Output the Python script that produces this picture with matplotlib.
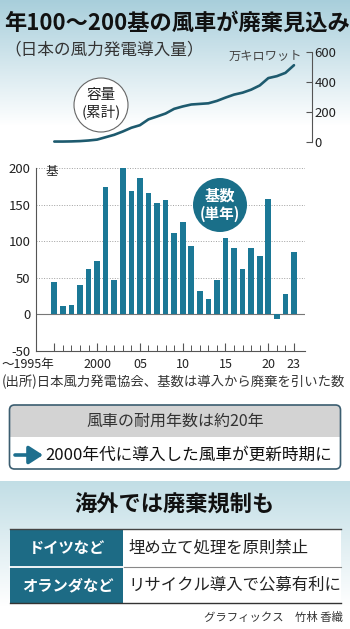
import numpy as np
import matplotlib
matplotlib.use("Agg")
import matplotlib.pyplot as plt
from matplotlib.patches import Circle, Rectangle, FancyBboxPatch

plt.rcParams['font.family'] = ['Noto Sans CJK JP', 'DejaVu Sans']

# ---------------- data ----------------
years = list(range(1995, 2024))
units_added = [44, 11, 12, 40, 62, 73, 175, 47, 200, 169, 187, 166, 153, 156,
               111, 126, 94, 32, 21, 47, 104, 90, 62, 90, 79, 158, -7, 28, 85]
capacity_cum = [1, 1, 2, 4, 8, 14, 30, 46, 68, 93, 110, 149, 168, 188,
                219, 235, 248, 252, 256, 272, 294, 314, 327, 347, 375, 424, 437, 459, 510]
cap_ticks = [0, 200, 400, 600]
bar_ticks = [-50, 0, 50, 100, 150, 200]
xtick_pos = [1995, 2000, 2005, 2010, 2015, 2020, 2023]
xtick_labels = ["～1995年", "2000", "05", "10", "15", "20", "23"]

title = "年100～200基の風車が廃棄見込み"
subtitle = "（日本の風力発電導入量）"
cap_unit = "万キロワット"
bar_unit = "基"
source = "(出所)日本風力発電協会、基数は導入から廃棄を引いた数"
box_head = "風車の耐用年数は約20年"
box_body = "2000年代に導入した風車が更新時期に"
sec_title = "海外では廃棄規制も"
table_left = ["ドイツなど", "オランダなど"]
table_right = ["埋め立て処理を原則禁止", "リサイクル導入で公募有利に"]
credit = "グラフィックス　竹林 香織"

# ---------------- figure ----------------
W, H = 350, 629
fig = plt.figure(figsize=(W / 100, H / 100), dpi=100)

def ax_px(x0, y0, x1, y1, **kw):
    return fig.add_axes([x0 / W, 1 - y1 / H, (x1 - x0) / W, (y1 - y0) / H], **kw)

# background gradients
bg = ax_px(0, 0, W, H)
bg.set_zorder(-5)
yy = np.arange(H)[:, None]
top_c = np.array([0.66, 0.81, 0.86])
low_c = np.array([0.76, 0.87, 0.90])
white = np.array([1.0, 1.0, 1.0])
t1 = np.clip(yy / 125.0, 0, 1)
img = top_c * (1 - t1[..., None]) + white * t1[..., None]
t2 = np.clip((yy - 481) / 125.0, 0, 1)
mask2 = (yy >= 481)
img2 = low_c * (1 - t2[..., None]) + white * t2[..., None]
img = np.where(mask2[..., None], img2, img)
img = np.repeat(img, W, axis=1)
bg.imshow(img, extent=(0, W, H, 0), aspect='auto', interpolation='bilinear')
bg.set_xlim(0, W)
bg.set_ylim(H, 0)
bg.axis('off')

px_per_year = 8.56
x_left_year = 1995 - (54.3 - 36) / px_per_year
line_color = "#1d5a6e"
bar_color = "#1b7896"
spine_c = "#555555"

# ---------------- capacity line chart ----------------
axl = ax_px(36, 51.7, 311.7, 141.7)
axl.patch.set_alpha(0)
axl.plot(years, capacity_cum, color=line_color, lw=1.9, solid_capstyle='round',
         clip_on=False)
axl.set_xlim(x_left_year, 1995 + (311.7 - 54.3) / px_per_year)
axl.set_ylim(0, 600)
for s in ['top', 'left', 'bottom']:
    axl.spines[s].set_visible(False)
axl.spines['right'].set_color(spine_c)
axl.spines['right'].set_linewidth(0.8)
axl.set_xticks([])
axl.yaxis.tick_right()
axl.set_yticks(cap_ticks)
axl.set_yticklabels([str(v) for v in cap_ticks])
axl.tick_params(axis='y', direction='in', length=4, width=0.8, color=spine_c,
                labelsize=9.5, pad=2, labelcolor="#222222")

# ---------------- bar chart ----------------
axb = ax_px(36, 168.3, 305, 350.5)
axb.patch.set_alpha(0)
axb.set_xlim(x_left_year, 1995 + (305 - 54.3) / px_per_year)
axb.set_ylim(-50, 200)
for v in [50, 100, 150, 200]:
    axb.axhline(v, color="#a0a0a0", lw=0.7, ls=(0, (1, 1.6)), zorder=0)
axb.axhline(0, color="#777777", lw=0.8, zorder=1)
axb.bar(years, units_added, width=0.66, color=bar_color, zorder=2)
for s in ['top', 'right']:
    axb.spines[s].set_visible(False)
for s in ['left', 'bottom']:
    axb.spines[s].set_color(spine_c)
    axb.spines[s].set_linewidth(0.8)
axb.set_yticks(bar_ticks)
axb.set_yticklabels([str(v) for v in bar_ticks])
axb.tick_params(axis='y', length=0, pad=4, labelsize=9.5, labelcolor="#222222")
axb.set_xticks(xtick_pos)
axb.set_xticklabels(xtick_labels)
axb.set_xticks(years, minor=True)
axb.tick_params(axis='x', which='major', direction='in', length=6, width=0.8,
                color=spine_c, labelsize=9, pad=5.5, labelcolor="#222222")
axb.tick_params(axis='x', which='minor', direction='in', length=4, width=0.7,
                color=spine_c)
lbls = axb.get_xticklabels()
lbls[0].set_ha('right')
lbls[0].set_x(1995.1)

# ---------------- overlay (pixel coords) ----------------
ov = ax_px(0, 0, W, H)
ov.set_zorder(10)
ov.patch.set_alpha(0)
ov.set_xlim(0, W)
ov.set_ylim(H, 0)
ov.axis('off')

ov.text(4, 23, title, fontsize=16, fontweight='bold', ha='left', va='center',
        color="#111111")
ov.text(4, 50, subtitle, fontsize=12, ha='left', va='center', color="#333333")
ov.text(302, 56, cap_unit, fontsize=8.8, ha='right', va='center', color="#444444")
ov.text(45, 172, bar_unit, fontsize=9, ha='left', va='center', color="#222222")

# capacity badge
ov.add_patch(Circle((101, 105), 27, facecolor='white', edgecolor='#666666', lw=0.8))
ov.text(101, 95, "容量", fontsize=10.5, ha='center', va='center', color="#222222")
ov.text(101, 112, "(累計)", fontsize=10.5, ha='center', va='center', color="#222222")
# units badge
ov.add_patch(Circle((220, 205), 27, facecolor='#1a6f89', edgecolor='none'))
ov.text(220, 196, "基数", fontsize=11, fontweight='bold', ha='center', va='center',
        color='white')
ov.text(220, 214, "(単年)", fontsize=10.5, fontweight='bold', ha='center', va='center',
        color='white')

ov.text(173, 382, source, fontsize=9.6, ha='center', va='center', color="#333333")

# info box
bx0, by0, bx1, by1 = 9.5, 405, 340.5, 469
box_bg = FancyBboxPatch((bx0, by0), bx1 - bx0, by1 - by0,
                        boxstyle="round,pad=0,rounding_size=5",
                        facecolor='white', edgecolor='none')
ov.add_patch(box_bg)
head = Rectangle((bx0, by0), bx1 - bx0, 32, facecolor='#d3d3d3', edgecolor='none')
ov.add_patch(head)
head.set_clip_path(box_bg)
ov.add_patch(FancyBboxPatch((bx0, by0), bx1 - bx0, by1 - by0,
                            boxstyle="round,pad=0,rounding_size=5",
                            facecolor='none', edgecolor='#3b5d70', lw=1.2))
ov.text(175, 421.5, box_head, fontsize=11.5, ha='center', va='center', color="#333333")
ov.annotate('', xy=(43, 455), xytext=(15, 455),
            arrowprops=dict(arrowstyle='-|>,head_length=0.7,head_width=0.45',
                            lw=2.6, color='#1e6f8e', shrinkA=0, shrinkB=0,
                            mutation_scale=12))
ov.text(45, 455, box_body, fontsize=12, ha='left', va='center', color="#111111")

# lower section
ov.text(174, 505, sec_title, fontsize=16, fontweight='bold', ha='center',
        va='center', color="#111111")
tx0, txm, tx1 = 9.5, 123.3, 341
rows = [(529.3, 566.7), (566.7, 603.3)]
for (r0, r1), lt, rt in zip(rows, table_left, table_right):
    ov.add_patch(Rectangle((txm, r0), tx1 - txm, r1 - r0, facecolor='white',
                           edgecolor='none'))
    ov.add_patch(Rectangle((tx0, r0), txm - tx0, r1 - r0, facecolor='#1d6b85',
                           edgecolor='none'))
    ov.text((tx0 + txm) / 2 + 1, (r0 + r1) / 2, lt, fontsize=11, fontweight='bold',
            ha='center', va='center', color='white')
    ov.text(128, (r0 + r1) / 2, rt, fontsize=11.8, ha='left', va='center',
            color="#222222")
ov.plot([tx0, tx1], [529.3, 529.3], color='#444444', lw=1.0)
ov.plot([txm, tx1], [566.7, 566.7], color='#888888', lw=0.8)
ov.plot([tx0, txm], [566.7, 566.7], color='white', lw=1.3)
ov.plot([tx0, tx1], [603.3, 603.3], color='#333333', lw=1.0)

ov.text(343, 617, credit, fontsize=8.2, ha='right', va='center', color="#333333",
        style='italic')

fig.savefig("out.png", dpi=100)
